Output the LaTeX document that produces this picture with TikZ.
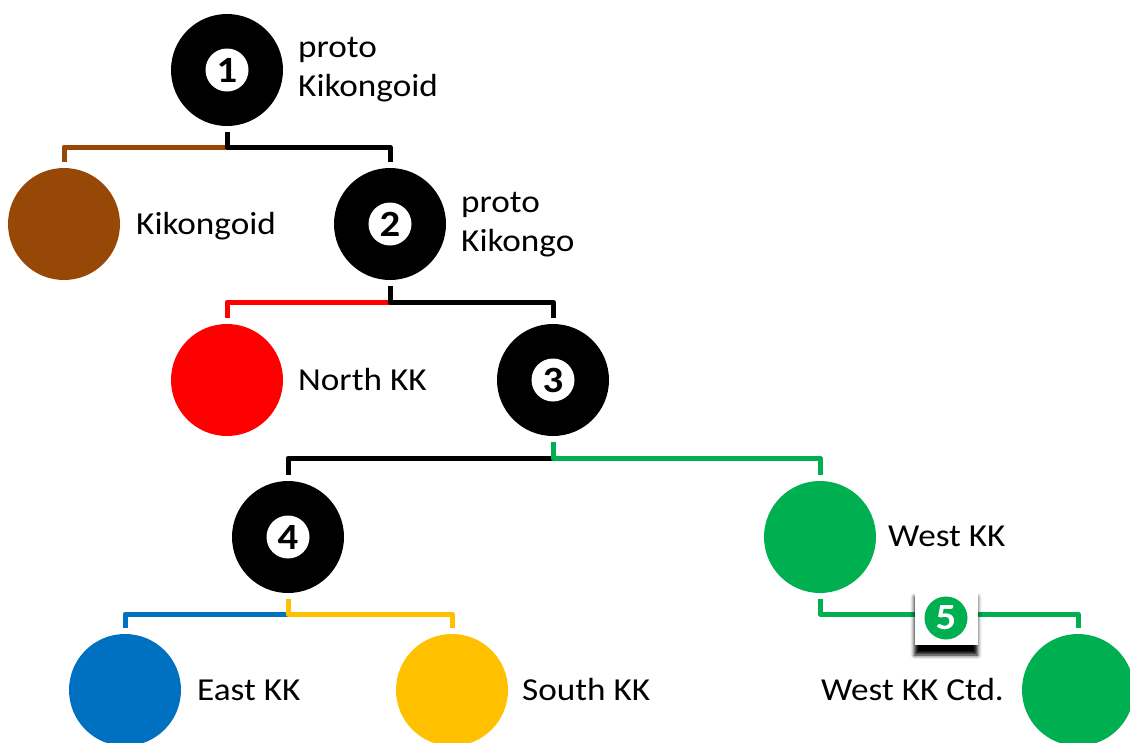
\documentclass[tikz,border=0pt]{standalone}
\usepackage{fontspec}
\setmainfont[FakeStretch=1.1]{Carlito}
\usetikzlibrary{shadows.blur,calc}
\definecolor{kbrown}{RGB}{151,71,6}
\definecolor{kred}{RGB}{255,0,0}
\definecolor{kblue}{RGB}{0,112,192}
\definecolor{kyellow}{RGB}{255,192,0}
\definecolor{kgreen}{RGB}{0,176,80}
\begin{document}
\begin{tikzpicture}[x=1pt,y=-1pt,
  disc/.style={circle, minimum size=112pt, inner sep=0pt, fill=#1},
  numdisc/.style={circle, fill=white, minimum size=43pt, inner sep=0pt, font=\fontsize{37}{37}\selectfont\bfseries},
  lbl/.style={anchor=base west, font=\fontsize{32}{39}\selectfont, inner sep=0pt},
  lk/.style={line width=5pt, draw=#1, line join=round},
]
\path[use as bounding box] (0,0) rectangle (1130,742);
\clip (0,0) rectangle (1130,742);

% circles
\node[disc=black] (c1) at (227,70) {};
\node[disc=kbrown] (kg) at (64,224) {};
\node[disc=black] (c2) at (390,224) {};
\node[disc=kred] (nk) at (227,380) {};
\node[disc=black] (c3) at (553,380) {};
\node[disc=black] (c4) at (288,537) {};
\node[disc=kgreen] (wk) at (820,537) {};
\node[disc=kblue] (ek) at (125,690) {};
\node[disc=kyellow] (sk) at (452,690) {};
\node[disc=kgreen] (wc) at (1078,690) {};

% numbers
\node[numdisc] (n1) at (c1) {1};
\node[numdisc] (n2) at (c2) {2};
\node[numdisc] (n3) at (c3) {3};
\node[numdisc] (n4) at (c4) {4};

% junctions
\coordinate (j1) at (227,147);
\coordinate (j2) at (390,302);
\coordinate (j3) at (553,458);
\coordinate (j4) at (288,614);
\coordinate (j5) at (820,614);

% connectors
\draw[lk=kbrown, shorten >=6pt] (j1) -| (kg.north);
\draw[lk=black, shorten <=6pt, shorten >=6pt] (c1.south) -- (j1) -| (c2.north);
\draw[lk=kred, shorten >=6pt] (j2) -| (nk.north);
\draw[lk=black, shorten <=6pt, shorten >=6pt] (c2.south) -- (j2) -| (c3.north);
\draw[lk=black, shorten >=6pt] (j3) -| (c4.north);
\draw[lk=kgreen, shorten <=6pt, shorten >=6pt] (c3.south) -- (j3) -| (wk.north);
\draw[lk=kblue, shorten >=6pt] (j4) -| (ek.north);
\draw[lk=kyellow, shorten <=6pt, shorten >=6pt] (c4.south) -- (j4) -| (sk.north);
\draw[lk=kgreen, shorten <=6pt, shorten >=6pt] (wk.south) -- (j5) -| (wc.north);

% box 5
\node[fill=white, minimum width=63pt, minimum height=58pt, inner sep=0pt,
  blur shadow={shadow xshift=0pt, shadow yshift=-10pt, shadow blur radius=4pt, shadow opacity=100}] (b5) at (946,616) {};
\node[circle, fill=kgreen, minimum size=43pt, inner sep=0pt, text=white,
  font=\fontsize{37}{37}\selectfont\bfseries] (n5) at (946,618) {5};

% labels
\node[lbl] (l1a) at (298,57) {proto};
\node[lbl] (l1b) at (298,96) {Kikongoid};
\node[lbl] (lkg) at (136,234) {Kikongoid};
\node[lbl] (l2a) at (461,212) {proto};
\node[lbl] (l2b) at (461,251) {Kikongo};
\node[lbl] (lnk) at (298,390) {North KK};
\node[lbl] (lwk) at (888,546) {West KK};
\node[lbl] (lek) at (197,700) {East KK};
\node[lbl] (lsk) at (522,700) {South KK};
\node[lbl, anchor=base east] (lwc) at (1004,700) {West KK Ctd.};
\end{tikzpicture}
\end{document}
